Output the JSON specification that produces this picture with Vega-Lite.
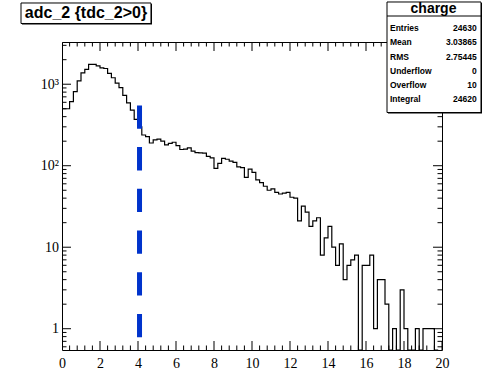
{
  "$schema": "https://vega.github.io/schema/vega-lite/v6.json",
  "width": 380,
  "height": 308,
  "autosize": {"type": "none"},
  "padding": {"left": 62, "top": 42, "right": 43, "bottom": 23},
  "background": "white",
  "config": {
    "view": {"stroke": "black", "strokeWidth": 1},
    "axis": {
      "domain": false,
      "grid": false,
      "labelColor": "black",
      "labelFont": "Liberation Serif",
      "labelFontSize": 14,
      "labelFlush": false,
      "labelOverlap": false,
      "labelBound": false,
      "title": null
    }
  },
  "datasets": {
    "xticks": [
      {"v": 0, "kind": "major"}, {"v": 0.4, "kind": "minor"}, {"v": 0.8, "kind": "minor"}, {"v": 1.2, "kind": "minor"}, {"v": 1.6, "kind": "minor"},
      {"v": 2, "kind": "major"}, {"v": 2.4, "kind": "minor"}, {"v": 2.8, "kind": "minor"}, {"v": 3.2, "kind": "minor"}, {"v": 3.6, "kind": "minor"},
      {"v": 4, "kind": "major"}, {"v": 4.4, "kind": "minor"}, {"v": 4.8, "kind": "minor"}, {"v": 5.2, "kind": "minor"}, {"v": 5.6, "kind": "minor"},
      {"v": 6, "kind": "major"}, {"v": 6.4, "kind": "minor"}, {"v": 6.8, "kind": "minor"}, {"v": 7.2, "kind": "minor"}, {"v": 7.6, "kind": "minor"},
      {"v": 8, "kind": "major"}, {"v": 8.4, "kind": "minor"}, {"v": 8.8, "kind": "minor"}, {"v": 9.2, "kind": "minor"}, {"v": 9.6, "kind": "minor"},
      {"v": 10, "kind": "major"}, {"v": 10.4, "kind": "minor"}, {"v": 10.8, "kind": "minor"}, {"v": 11.2, "kind": "minor"}, {"v": 11.6, "kind": "minor"},
      {"v": 12, "kind": "major"}, {"v": 12.4, "kind": "minor"}, {"v": 12.8, "kind": "minor"}, {"v": 13.2, "kind": "minor"}, {"v": 13.6, "kind": "minor"},
      {"v": 14, "kind": "major"}, {"v": 14.4, "kind": "minor"}, {"v": 14.8, "kind": "minor"}, {"v": 15.2, "kind": "minor"}, {"v": 15.6, "kind": "minor"},
      {"v": 16, "kind": "major"}, {"v": 16.4, "kind": "minor"}, {"v": 16.8, "kind": "minor"}, {"v": 17.2, "kind": "minor"}, {"v": 17.6, "kind": "minor"},
      {"v": 18, "kind": "major"}, {"v": 18.4, "kind": "minor"}, {"v": 18.8, "kind": "minor"}, {"v": 19.2, "kind": "minor"}, {"v": 19.6, "kind": "minor"},
      {"v": 20, "kind": "major"}
    ],
    "yticks": [
      {"v": 0.6, "kind": "minor"}, {"v": 0.7, "kind": "minor"}, {"v": 0.8, "kind": "minor"}, {"v": 0.9, "kind": "minor"},
      {"v": 1, "kind": "major"}, {"v": 2, "kind": "minor"}, {"v": 3, "kind": "minor"}, {"v": 4, "kind": "minor"}, {"v": 5, "kind": "minor"},
      {"v": 6, "kind": "minor"}, {"v": 7, "kind": "minor"}, {"v": 8, "kind": "minor"}, {"v": 9, "kind": "minor"},
      {"v": 10, "kind": "major"}, {"v": 20, "kind": "minor"}, {"v": 30, "kind": "minor"}, {"v": 40, "kind": "minor"}, {"v": 50, "kind": "minor"},
      {"v": 60, "kind": "minor"}, {"v": 70, "kind": "minor"}, {"v": 80, "kind": "minor"}, {"v": 90, "kind": "minor"},
      {"v": 100, "kind": "major"}, {"v": 200, "kind": "minor"}, {"v": 300, "kind": "minor"}, {"v": 400, "kind": "minor"}, {"v": 500, "kind": "minor"},
      {"v": 600, "kind": "minor"}, {"v": 700, "kind": "minor"}, {"v": 800, "kind": "minor"}, {"v": 900, "kind": "minor"},
      {"v": 1000, "kind": "major"}, {"v": 2000, "kind": "minor"}, {"v": 3000, "kind": "minor"}
    ]
  },
  "resolve": {"scale": {"x": "independent", "y": "independent"}},
  "layer": [
    {
      "resolve": {"axis": {"x": "independent", "y": "independent"}},
      "layer": [
        {
          "data": {
            "values": [
              {"lo": 0.0, "n": 500}, {"lo": 0.2, "n": 500}, {"lo": 0.4, "n": 610}, {"lo": 0.6, "n": 810},
              {"lo": 0.8, "n": 1100}, {"lo": 1.0, "n": 1380}, {"lo": 1.2, "n": 1520}, {"lo": 1.4, "n": 1750},
              {"lo": 1.6, "n": 1750}, {"lo": 1.8, "n": 1680}, {"lo": 2.0, "n": 1590}, {"lo": 2.2, "n": 1560},
              {"lo": 2.4, "n": 1360}, {"lo": 2.6, "n": 1200}, {"lo": 2.8, "n": 1030}, {"lo": 3.0, "n": 910},
              {"lo": 3.2, "n": 730}, {"lo": 3.4, "n": 590}, {"lo": 3.6, "n": 480}, {"lo": 3.8, "n": 370},
              {"lo": 4.0, "n": 300}, {"lo": 4.2, "n": 238}, {"lo": 4.4, "n": 228}, {"lo": 4.6, "n": 190},
              {"lo": 4.8, "n": 207}, {"lo": 5.0, "n": 212}, {"lo": 5.2, "n": 200}, {"lo": 5.4, "n": 180},
              {"lo": 5.6, "n": 188}, {"lo": 5.8, "n": 194}, {"lo": 6.0, "n": 176}, {"lo": 6.2, "n": 158},
              {"lo": 6.4, "n": 160}, {"lo": 6.6, "n": 166}, {"lo": 6.8, "n": 151}, {"lo": 7.0, "n": 145},
              {"lo": 7.2, "n": 144}, {"lo": 7.4, "n": 143}, {"lo": 7.6, "n": 130}, {"lo": 7.8, "n": 125},
              {"lo": 8.0, "n": 93}, {"lo": 8.2, "n": 107}, {"lo": 8.4, "n": 123}, {"lo": 8.6, "n": 120},
              {"lo": 8.8, "n": 114}, {"lo": 9.0, "n": 110}, {"lo": 9.2, "n": 97}, {"lo": 9.4, "n": 95},
              {"lo": 9.6, "n": 72}, {"lo": 9.8, "n": 91}, {"lo": 10.0, "n": 83}, {"lo": 10.2, "n": 67},
              {"lo": 10.4, "n": 62}, {"lo": 10.6, "n": 56}, {"lo": 10.8, "n": 50}, {"lo": 11.0, "n": 52},
              {"lo": 11.2, "n": 47}, {"lo": 11.4, "n": 45}, {"lo": 11.6, "n": 46}, {"lo": 11.8, "n": 47},
              {"lo": 12.0, "n": 41}, {"lo": 12.2, "n": 40}, {"lo": 12.4, "n": 21}, {"lo": 12.6, "n": 32},
              {"lo": 12.8, "n": 27}, {"lo": 13.0, "n": 18}, {"lo": 13.2, "n": 21}, {"lo": 13.4, "n": 23},
              {"lo": 13.6, "n": 8}, {"lo": 13.8, "n": 13}, {"lo": 14.0, "n": 18}, {"lo": 14.2, "n": 10},
              {"lo": 14.4, "n": 6}, {"lo": 14.6, "n": 11}, {"lo": 14.8, "n": 4}, {"lo": 15.0, "n": 6},
              {"lo": 15.2, "n": 7}, {"lo": 15.4, "n": 8}, {"lo": 15.6, "n": 0}, {"lo": 15.8, "n": 6},
              {"lo": 16.0, "n": 6}, {"lo": 16.2, "n": 8}, {"lo": 16.4, "n": 1}, {"lo": 16.6, "n": 4},
              {"lo": 16.8, "n": 4}, {"lo": 17.0, "n": 2}, {"lo": 17.2, "n": 0}, {"lo": 17.4, "n": 1},
              {"lo": 17.6, "n": 0}, {"lo": 17.8, "n": 3}, {"lo": 18.0, "n": 1}, {"lo": 18.2, "n": 0},
              {"lo": 18.4, "n": 0}, {"lo": 18.6, "n": 1}, {"lo": 18.8, "n": 0}, {"lo": 19.0, "n": 1},
              {"lo": 19.2, "n": 1}, {"lo": 19.4, "n": 1}, {"lo": 19.6, "n": 0}, {"lo": 19.8, "n": 0}
            ]
          },
          "mark": {"type": "line", "interpolate": "step-after", "color": "black", "strokeWidth": 1.2, "clip": true, "invalid": "show"},
          "encoding": {
            "x": {
              "field": "lo", "type": "quantitative",
              "scale": {"domain": [0, 20], "nice": false, "zero": false},
              "axis": {
                "orient": "bottom", "offset": -9, "tickSize": 9, "ticks": true, "tickOpacity": 0,
                "values": [0, 2, 4, 6, 8, 10, 12, 14, 16, 18, 20],
                "labelExpr": "format(datum.value, 'd')",
                "labelPadding": 6
              }
            },
            "y": {
              "field": "n", "type": "quantitative",
              "scale": {"type": "log", "domain": [0.548, 3296], "nice": false, "clamp": true},
              "axis": {
                "orient": "left", "offset": -9, "tickSize": 9, "ticks": true, "tickOpacity": 0,
                "values": [1, 10, 100, 1000],
                "labelExpr": "datum.value === 100 ? '10²' : datum.value === 1000 ? '10³' : datum.value === 10 ? '10' : '1'",
                "labelPadding": 3.5
              }
            }
          }
        },
        {
          "data": {"values": [{"cut": 4.08, "top": 550}]},
          "mark": {"type": "rule", "color": "#0033cc", "strokeWidth": 5, "strokeDash": [23.3, 18.4], "clip": true},
          "encoding": {
            "x": {"field": "cut", "type": "quantitative", "axis": null},
            "y": {"field": "top", "type": "quantitative", "axis": null},
            "y2": {"datum": 0.548}
          }
        },
        {
          "data": {"name": "xticks"},
          "mark": {"type": "tick", "orient": "vertical", "thickness": 1, "color": "black", "opacity": 1, "clip": true},
          "encoding": {
            "x": {"field": "v", "type": "quantitative", "axis": null},
            "y": {"datum": 0.548, "type": "quantitative", "axis": null},
            "size": {"field": "kind", "type": "ordinal", "scale": {"domain": ["major", "minor"], "range": [18, 9]}, "legend": null}
          }
        },
        {
          "data": {"name": "xticks"},
          "mark": {"type": "tick", "orient": "vertical", "thickness": 1, "color": "black", "opacity": 1, "clip": true},
          "encoding": {
            "x": {"field": "v", "type": "quantitative", "axis": null},
            "y": {"datum": 3296, "type": "quantitative", "axis": null},
            "size": {"field": "kind", "type": "ordinal", "legend": null}
          }
        },
        {
          "data": {"name": "yticks"},
          "mark": {"type": "tick", "orient": "horizontal", "thickness": 1, "color": "black", "opacity": 1, "clip": true},
          "encoding": {
            "x": {"datum": 0, "type": "quantitative", "axis": null},
            "y": {"field": "v", "type": "quantitative", "axis": null},
            "size": {"field": "kind", "type": "ordinal", "legend": null}
          }
        },
        {
          "data": {"name": "yticks"},
          "mark": {"type": "tick", "orient": "horizontal", "thickness": 1, "color": "black", "opacity": 1, "clip": true},
          "encoding": {
            "x": {"datum": 20, "type": "quantitative", "axis": null},
            "y": {"field": "v", "type": "quantitative", "axis": null},
            "size": {"field": "kind", "type": "ordinal", "legend": null}
          }
        }
      ]
    },
    {
      "data": {"values": [{"title": "adc_2 {tdc_2>0}"}]},
      "layer": [
        {
          "mark": {"type": "rect", "fill": "black", "xOffset": 1, "x2Offset": 1, "yOffset": 1, "y2Offset": 1, "clip": false},
          "encoding": {
            "x": {"datum": 0.0433, "type": "quantitative", "scale": {"domain": [0.127835, 0.91134], "nice": false, "zero": false}, "axis": null},
            "x2": {"datum": 0.3113},
            "y": {"datum": 0.99196, "type": "quantitative", "scale": {"domain": [0.061662, 0.887399], "nice": false, "zero": false}, "axis": null},
            "y2": {"datum": 0.937}
          }
        },
        {
          "mark": {"type": "rect", "fill": "white", "stroke": "black", "strokeWidth": 1, "clip": false},
          "encoding": {
            "x": {"datum": 0.0433, "type": "quantitative", "axis": null},
            "x2": {"datum": 0.3113},
            "y": {"datum": 0.99196, "type": "quantitative", "axis": null},
            "y2": {"datum": 0.937}
          }
        },
        {
          "mark": {"type": "text", "font": "Liberation Sans", "fontWeight": "bold", "fontSize": 16, "color": "black", "align": "center", "baseline": "middle", "clip": false},
          "encoding": {
            "x": {"datum": 0.1773, "type": "quantitative", "axis": null},
            "y": {"datum": 0.9643, "type": "quantitative", "axis": null},
            "text": {"field": "title"}
          }
        }
      ]
    },
    {
      "data": {"values": [{"name": "charge"}]},
      "layer": [
        {
          "mark": {"type": "rect", "fill": "black", "xOffset": 1, "x2Offset": 1, "yOffset": 1, "y2Offset": 1, "clip": false},
          "encoding": {
            "x": {"datum": 0.79794, "type": "quantitative", "scale": {"domain": [0.127835, 0.91134], "nice": false, "zero": false}, "axis": null},
            "x2": {"datum": 0.99175},
            "y": {"datum": 0.99464, "type": "quantitative", "scale": {"domain": [0.061662, 0.887399], "nice": false, "zero": false}, "axis": null},
            "y2": {"datum": 0.69839}
          }
        },
        {
          "mark": {"type": "rect", "fill": "white", "stroke": "black", "strokeWidth": 1, "clip": false},
          "encoding": {
            "x": {"datum": 0.79794, "type": "quantitative", "axis": null},
            "x2": {"datum": 0.99175},
            "y": {"datum": 0.99464, "type": "quantitative", "axis": null},
            "y2": {"datum": 0.69839}
          }
        },
        {
          "mark": {"type": "rule", "color": "black", "strokeWidth": 1, "clip": false},
          "encoding": {
            "x": {"datum": 0.79794, "type": "quantitative", "axis": null},
            "x2": {"datum": 0.99175},
            "y": {"datum": 0.9571, "type": "quantitative", "axis": null}
          }
        },
        {
          "mark": {"type": "text", "font": "Liberation Sans", "fontWeight": "bold", "fontSize": 14, "color": "black", "align": "center", "baseline": "middle", "clip": false},
          "encoding": {
            "x": {"datum": 0.89381, "type": "quantitative", "axis": null},
            "y": {"datum": 0.97587, "type": "quantitative", "axis": null},
            "text": {"field": "name"}
          }
        }
      ]
    },
    {
      "data": {
        "values": [
          {"stat": "Entries", "value": "24630"},
          {"stat": "Mean", "value": "3.03865"},
          {"stat": "RMS", "value": "2.75445"},
          {"stat": "Underflow", "value": "0"},
          {"stat": "Overflow", "value": "10"},
          {"stat": "Integral", "value": "24620"}
        ]
      },
      "transform": [{"window": [{"op": "row_number", "as": "line"}]}],
      "layer": [
        {
          "mark": {"type": "text", "font": "Liberation Sans", "fontWeight": "bold", "fontSize": 8.5, "color": "black", "align": "left", "baseline": "middle", "clip": false},
          "encoding": {
            "x": {"datum": 0.8041, "type": "quantitative", "scale": {"domain": [0.127835, 0.91134], "nice": false, "zero": false}, "axis": null},
            "y": {"field": "line", "type": "quantitative", "scale": {"domain": [1.9648, 23.655], "reverse": true, "nice": false, "zero": false}, "axis": null},
            "text": {"field": "stat"}
          }
        },
        {
          "mark": {"type": "text", "font": "Liberation Sans", "fontWeight": "bold", "fontSize": 8.5, "color": "black", "align": "right", "baseline": "middle", "clip": false},
          "encoding": {
            "x": {"datum": 0.98289, "type": "quantitative", "axis": null},
            "y": {"field": "line", "type": "quantitative", "axis": null},
            "text": {"field": "value"}
          }
        }
      ]
    }
  ]
}
